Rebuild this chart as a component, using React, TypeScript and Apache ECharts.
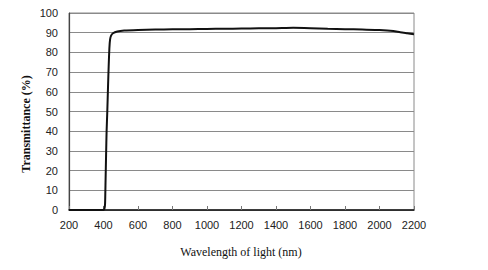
import React, { useEffect, useRef } from "react";
import * as echarts from "echarts";

const wavelengths = [200, 300, 395, 402, 405, 409, 412, 415, 418, 422, 426, 430, 434, 438, 444, 455, 480, 520, 600, 700, 800, 900, 1000, 1100, 1200, 1300, 1400, 1500, 1600, 1700, 1800, 1900, 2000, 2080, 2120, 2160, 2200];
const transmittance = [0, 0, 0, 0.2, 0.5, 3, 15, 28, 40, 50, 62, 73, 82, 86.5, 88.5, 89.7, 90.6, 91.1, 91.4, 91.6, 91.7, 91.8, 91.9, 92.0, 92.1, 92.2, 92.3, 92.5, 92.3, 92.0, 91.8, 91.6, 91.4, 90.9, 90.2, 89.7, 89.2];
const xTicks = { min: 200, max: 2200, interval: 200 };
const yTicks = { min: 0, max: 100, interval: 10 };
const xTitle = "Wavelength of light (nm)";
const yTitle = "Transmittance (%)";

export default function App() {
  const ref = useRef<HTMLDivElement>(null);
  useEffect(() => {
    if (!ref.current) return;
    const chart = echarts.init(ref.current, null, { renderer: "svg" });
    const data = wavelengths.map((w, i) => [w, transmittance[i]]);
    chart.setOption({
      animation: false,
      backgroundColor: "#ffffff",
      grid: {
        left: 69,
        right: 74,
        top: 13,
        bottom: 60,
        show: true,
        borderColor: "#8a8a8a",
        borderWidth: 1,
      },
      xAxis: {
        type: "value",
        min: xTicks.min,
        max: xTicks.max,
        interval: xTicks.interval,
        axisLine: { show: true, lineStyle: { color: "#111", width: 1.5 } },
        axisTick: { show: true, inside: true, length: 4, lineStyle: { color: "#777" } },
        axisLabel: {
          color: "#222",
          fontSize: 11,
          fontFamily: "Liberation Sans, Arial, sans-serif",
          margin: 9,
          formatter: (v: number) => String(v),
        },
        splitLine: { show: false },
      },
      yAxis: {
        type: "value",
        min: yTicks.min,
        max: yTicks.max,
        interval: yTicks.interval,
        axisLine: { show: true, lineStyle: { color: "#444", width: 1.2 } },
        axisTick: { show: false },
        axisLabel: {
          color: "#222",
          fontSize: 11,
          fontFamily: "Liberation Sans, Arial, sans-serif",
          margin: 11,
          formatter: (v: number) => String(v),
        },
        splitLine: { show: true, lineStyle: { color: "#8a8a8a", width: 1 } },
      },
      graphic: [
        {
          type: "text",
          x: 241,
          y: 252,
          style: {
            text: xTitle,
            fontFamily: "Liberation Serif, Times New Roman, serif",
            fontSize: 12,
            fill: "#111",
            align: "center",
            verticalAlign: "middle",
          },
        },
        {
          type: "text",
          x: 26,
          y: 124,
          rotation: Math.PI / 2,
          style: {
            text: yTitle,
            fontFamily: "Liberation Serif, Times New Roman, serif",
            fontSize: 12,
            fontWeight: "bold",
            fill: "#111",
            align: "center",
            verticalAlign: "middle",
          },
        },
      ],
      series: [
        {
          type: "line",
          data,
          showSymbol: false,
          smooth: 0.2,
          lineStyle: { color: "#111", width: 2 },
        },
      ],
    });
    return () => chart.dispose();
  }, []);
  return (
    <div
      ref={ref}
      style={{ position: "absolute", left: 0, top: 0, width: 488, height: 270 }}
    />
  );
}
